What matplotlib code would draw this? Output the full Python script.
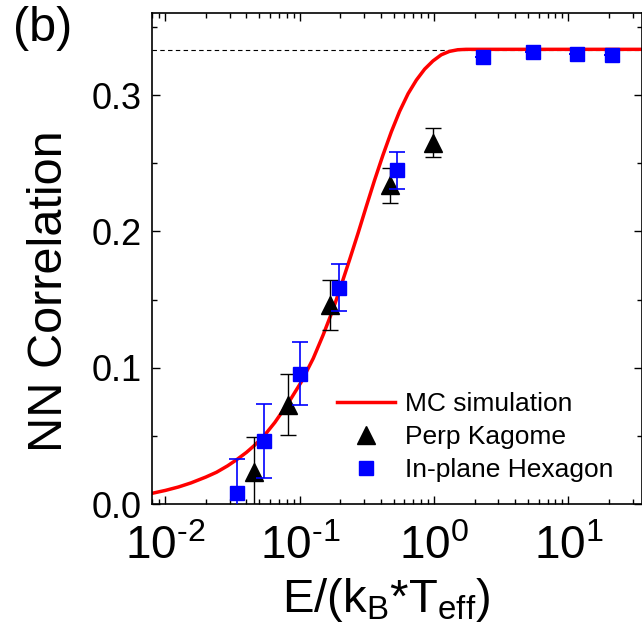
import numpy as np
import matplotlib
matplotlib.use("Agg")
from matplotlib import pyplot as plt
from matplotlib.ticker import MultipleLocator, FormatStrFormatter, LogLocator, FuncFormatter

plt.rcParams['font.family'] = ['Liberation Sans', 'DejaVu Sans']
plt.rcParams['mathtext.fontset'] = 'custom'
plt.rcParams['mathtext.rm'] = 'Liberation Sans'
plt.rcParams['mathtext.it'] = 'Liberation Sans:italic'
plt.rcParams['mathtext.default'] = 'regular'

# MC simulation curve (NN correlation vs E/kT)
mc_x = [0.0079, 0.01, 0.0125, 0.0155, 0.02, 0.024, 0.029, 0.034, 0.040, 0.0455,
        0.054, 0.0652, 0.083, 0.103, 0.126, 0.149, 0.177, 0.204, 0.236, 0.272,
        0.313, 0.36, 0.416, 0.48, 0.553, 0.64, 0.738, 0.85, 0.98, 1.13,
        1.30, 1.5, 1.73, 2.5, 35.0]
mc_y = [0.008, 0.0102, 0.0127, 0.0157, 0.0200, 0.0235, 0.0282, 0.0328, 0.0380, 0.0428,
        0.0500, 0.0600, 0.0750, 0.0900, 0.1070, 0.1240, 0.1430, 0.1610, 0.1800, 0.1990,
        0.2185, 0.2375, 0.2560, 0.2730, 0.2880, 0.3010, 0.3110, 0.3190, 0.3250, 0.3295,
        0.3320, 0.3332, 0.3335, 0.3335, 0.3335]

# perpendicular kagome measurements
kag_x = [0.0455, 0.0818, 0.167, 0.467, 0.98]
kag_y = [0.0239, 0.0731, 0.1463, 0.2338, 0.2651]
kag_err = [0.0257, 0.0223, 0.0183, 0.013, 0.0105]

# in-plane hexagon measurements
hex_x = [0.0342, 0.054, 0.1, 0.195, 0.532, 2.31, 5.43, 11.6, 21.0]
hex_y = [0.008, 0.0465, 0.0958, 0.1589, 0.2447, 0.3277, 0.3318, 0.330, 0.3293]
hex_err = [0.025, 0.027, 0.0229, 0.0171, 0.0137, 0, 0, 0, 0]

limit = 1 / 3


def decade_label(v, pos):
    p = round(np.log10(v))
    if p < 0:
        return r'10$^{\text{-}%d}$' % -p
    return r'10$^{%d}$' % p


fig = plt.figure(figsize=(6.42, 6.37), dpi=100)
ax = fig.add_axes([0.2363, 0.2083, 0.763, 0.771])

ax.axhline(limit, color='black', lw=0.8, ls=(0, (4, 3)), zorder=1)
ax.plot(mc_x, mc_y, color='red', lw=2.5, label='MC simulation', zorder=2)

ax.errorbar(kag_x, kag_y, yerr=kag_err, fmt='none', ecolor='black', elinewidth=1.0,
            capsize=5.5, capthick=1.0, zorder=3)
ax.plot(kag_x, kag_y, '^', color='black', ms=12.5, label='Perp Kagome', zorder=4)
ax.errorbar(hex_x, hex_y, yerr=hex_err, fmt='none', ecolor='blue', elinewidth=1.2,
            capsize=5.5, capthick=1.2, zorder=5)
ax.plot(hex_x, hex_y, 's', color='blue', ms=9.5, label='In-plane Hexagon', zorder=6)

ax.set_xscale('log')
ax.set_xlim(0.0079, 35)
ax.set_ylim(0, 0.36)
ax.yaxis.set_major_locator(MultipleLocator(0.1))
ax.yaxis.set_minor_locator(MultipleLocator(0.05))
ax.yaxis.set_major_formatter(FormatStrFormatter('%.1f'))
ax.xaxis.set_major_locator(LogLocator(base=10, subs=(1.0,), numticks=20))
ax.xaxis.set_minor_locator(LogLocator(base=10, subs=np.arange(2, 10), numticks=20))
ax.xaxis.set_major_formatter(FuncFormatter(decade_label))

for s in ax.spines.values():
    s.set_linewidth(1.2)
ax.tick_params(which='both', direction='in', top=True, right=True, width=1.0)
ax.tick_params(which='major', length=6)
ax.tick_params(which='minor', length=3.5)
ax.tick_params(axis='x', which='major', labelsize=33, pad=15)
ax.tick_params(axis='y', which='major', labelsize=26, pad=7)

fig.text(386 / 642, 1 - 611.7 / 637, r'E/(k$_{B}$*T$_{eff}$)', fontsize=34,
         ha='center', va='baseline')
fig.text(50 / 642, 1 - 291 / 637, 'NN Correlation', fontsize=35, rotation=90,
         ha='center', va='center')
fig.text(13 / 642, 1 - 6 / 637, '(b)', fontsize=35, ha='left', va='top')

ax.legend(loc='upper left', bbox_to_anchor=(0.3776, 0.228), frameon=False,
          fontsize=19, handlelength=2.2, handletextpad=0.4, labelspacing=0.33,
          borderpad=0, borderaxespad=0, numpoints=1)

fig.savefig('out.png', dpi=100)
